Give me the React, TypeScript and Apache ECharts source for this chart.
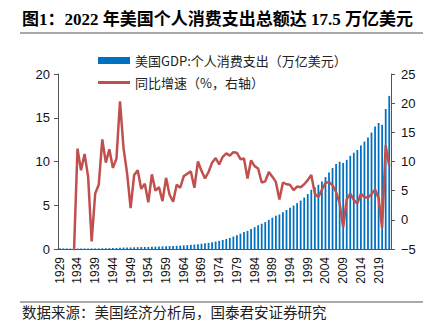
import React, { useEffect, useRef } from "react";
import * as echarts from "echarts";

const years: string[] = [];
for (let y = 1929; y <= 2022; y++) years.push(String(y));

// 美国个人消费支出（万亿美元）
const pce: number[] = [
  0.077, 0.070, 0.061, 0.049, 0.046, 0.052, 0.056, 0.062, 0.067, 0.064,
  0.067, 0.071, 0.081, 0.089, 0.100, 0.109, 0.120, 0.144, 0.162, 0.175,
  0.179, 0.192, 0.209, 0.220, 0.233, 0.240, 0.259, 0.272, 0.287, 0.296,
  0.318, 0.331, 0.342, 0.362, 0.382, 0.411, 0.443, 0.480, 0.506, 0.557,
  0.604, 0.647, 0.700, 0.768, 0.850, 0.930, 1.031, 1.148, 1.274, 1.422,
  1.585, 1.751, 1.934, 2.071, 2.282, 2.492, 2.713, 2.886, 3.076, 3.330,
  3.577, 3.809, 3.943, 4.198, 4.452, 4.721, 4.963, 5.245, 5.537, 5.877,
  6.279, 6.762, 7.066, 7.343, 7.723, 8.213, 8.747, 9.260, 9.706, 9.976,
  9.842, 10.186, 10.641, 11.007, 11.317, 11.823, 12.284, 12.749, 13.312, 13.999,
  14.4, 14.2, 16.0, 17.5,
];

// 同比增速（%）
const growth: (number | null)[] = [
  null, -9.4, -13.4, -19.8, -5.7, 12.2, 8.5, 11.3, 7.4, -3.7,
  4.5, 6.0, 13.8, 9.8, 12.1, 8.9, 10.5, 20.3, 12.3, 8.0,
  2.0, 7.7, 8.5, 5.3, 6.2, 3.0, 7.8, 5.0, 5.6, 3.2,
  7.2, 4.3, 3.1, 6.0, 5.5, 7.5, 7.9, 8.3, 5.5, 10.0,
  8.4, 7.1, 8.2, 9.8, 10.6, 9.5, 10.8, 11.4, 11.0, 11.6,
  11.5, 10.4, 10.5, 7.1, 10.2, 9.2, 8.8, 6.4, 6.6, 8.2,
  7.4, 6.5, 3.5, 6.4, 6.1, 6.0, 5.1, 5.7, 5.6, 6.1,
  6.8, 7.7, 4.5, 3.9, 5.2, 6.3, 6.5, 5.9, 4.8, 2.8,
  -1.3, 3.5, 4.5, 3.4, 2.8, 4.5, 3.9, 3.8, 4.4, 5.2,
  3.7, -1.4, 12.8, 9.2,
];

const BAR_NAME = "美国GDP:个人消费支出（万亿美元）";
const LINE_NAME = "同比增速（%，右轴）";
const TITLE = "图1：2022 年美国个人消费支出总额达 17.5 万亿美元";
const SOURCE = "数据来源：美国经济分析局，国泰君安证券研究";

const CJK = "'Noto Sans CJK SC', 'Liberation Sans', sans-serif";
const NUM = "'Liberation Sans', Arial, sans-serif";

export default function App() {
  const ref = useRef<HTMLDivElement>(null);
  useEffect(() => {
    if (!ref.current) return;
    const chart = echarts.init(ref.current, undefined, { renderer: "svg" });
    const fmt = (v: number) => (v < 0 ? "\u2212" + Math.abs(v) : String(v));
    chart.setOption({
      animation: false,
      backgroundColor: "#fff",
      grid: { left: 58, right: 49, top: 74, bottom: 77, containLabel: false },
      legend: [
        {
          data: [{ name: BAR_NAME, icon: "rect" }],
          left: 93,
          top: 49,
          itemWidth: 32,
          itemHeight: 7,
          itemGap: 5,
          textStyle: { fontFamily: CJK, fontSize: 13, color: "#222" },
        },
        {
          data: [{ name: LINE_NAME, icon: "rect" }],
          left: 93,
          top: 71,
          itemWidth: 32,
          itemHeight: 3,
          textStyle: { fontFamily: CJK, fontSize: 13, color: "#222" },
        },
      ],
      xAxis: {
        type: "category",
        data: years,
        boundaryGap: true,
        axisLine: { lineStyle: { color: "#555", width: 1 } },
        axisTick: { interval: 4, length: 4, lineStyle: { color: "#555" } },
        axisLabel: {
          interval: 4,
          rotate: 90,
          margin: 8,
          fontSize: 12,
          fontFamily: NUM,
          color: "#111",
        },
        splitLine: { show: false },
      },
      yAxis: [
        {
          type: "value",
          min: 0,
          max: 20,
          interval: 5,
          axisLine: { show: true, lineStyle: { color: "#555" } },
          axisTick: { show: true, length: 4, lineStyle: { color: "#555" } },
          axisLabel: { fontSize: 13, fontFamily: NUM, color: "#111", margin: 8 },
          splitLine: { show: false },
        },
        {
          type: "value",
          min: -5,
          max: 25,
          interval: 5,
          position: "right",
          axisLine: { show: true, lineStyle: { color: "#555" } },
          axisTick: { show: true, length: 4, lineStyle: { color: "#555" } },
          axisLabel: {
            fontSize: 13,
            fontFamily: NUM,
            color: "#111",
            margin: 10,
            formatter: fmt,
          },
          splitLine: { show: false },
        },
      ],
      series: [
        {
          name: BAR_NAME,
          type: "bar",
          data: pce,
          yAxisIndex: 0,
          barWidth: "50%",
          itemStyle: { color: "#0070C0" },
        },
        {
          name: LINE_NAME,
          type: "line",
          data: growth,
          yAxisIndex: 1,
          symbol: "none",
          clip: true,
          lineStyle: { color: "#C0504D", width: 2.5 },
          itemStyle: { color: "#C0504D" },
        },
      ],
      graphic: [
        {
          type: "text",
          left: 22,
          top: 11,
          style: {
            text: TITLE,
            font: `bold 17px 'Liberation Serif', 'Noto Sans CJK SC', serif`,
            fill: "#000",
          },
        },
        {
          type: "line",
          shape: { x1: 20, y1: 33, x2: 423, y2: 33 },
          style: { stroke: "#8c8c8c", lineWidth: 1.5 },
        },
        {
          type: "line",
          shape: { x1: 20, y1: 302, x2: 423, y2: 302 },
          style: { stroke: "#8c8c8c", lineWidth: 1.5 },
        },
        {
          type: "text",
          left: 22,
          top: 304,
          style: {
            text: SOURCE,
            font: `14.5px ${CJK}`,
            fill: "#222",
          },
        },
      ],
    });
    return () => chart.dispose();
  }, []);
  return (
    <div
      ref={ref}
      style={{ position: "fixed", left: 0, top: 0, width: 440, height: 326 }}
    />
  );
}
